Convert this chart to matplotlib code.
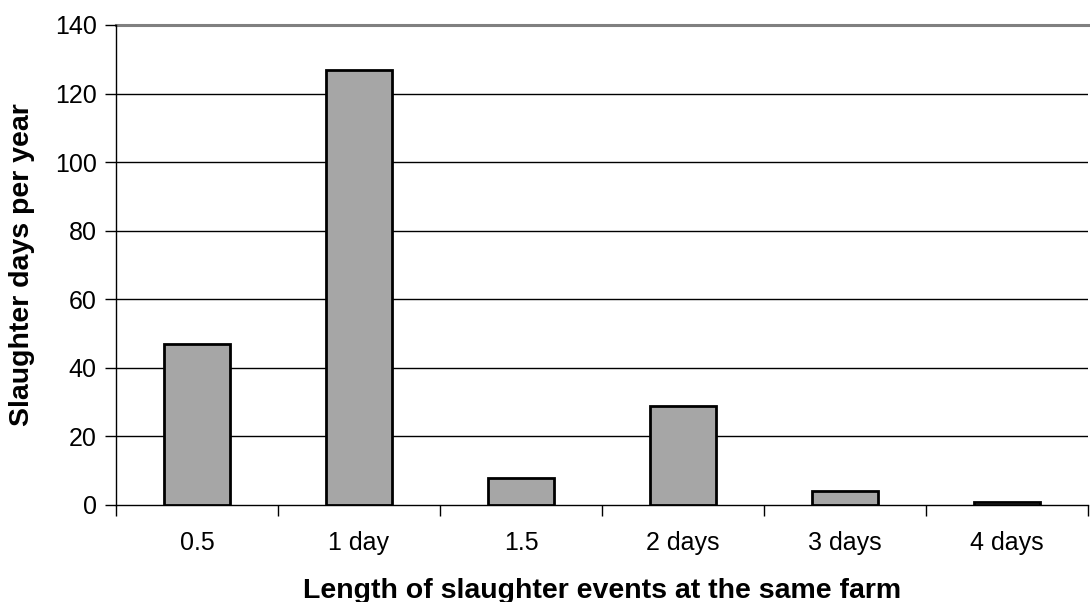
import numpy as np
import matplotlib.pyplot as plt

categories = ["0.5", "1 day", "1.5", "2 days", "3 days", "4 days"]
values = [47, 127, 8, 29, 4, 1]
y_ticks = [0, 20, 40, 60, 80, 100, 120, 140]

plt.rcParams['font.family'] = ['Liberation Sans', 'DejaVu Sans']

fig = plt.figure(figsize=(10.9, 6.02), dpi=100)
ax = fig.add_axes([116 / 1090, 1 - 505 / 602, (1088 - 116) / 1090, (505 - 25) / 602])

x = np.arange(len(categories))
ax.bar(x, values, width=0.41, color="#A6A6A6", edgecolor="black", linewidth=2, zorder=3)

ax.set_xlim(-0.5, len(categories) - 0.5)
ax.set_ylim(0, 140)

# 目盛り線
for t in y_ticks[1:-1]:
    ax.axhline(t, color="black", linewidth=1, zorder=1)
ax.axhline(140, color="#808080", linewidth=2.2, zorder=1, clip_on=False)

ax.set_yticks(y_ticks)
ax.set_yticklabels([str(t) for t in y_ticks])
ax.set_xticks(x)
ax.set_xticklabels(categories)
ax.set_xticks(np.arange(len(categories) + 1) - 0.5, minor=True)

ax.tick_params(axis="x", which="major", length=0, pad=19, labelsize=18)
ax.tick_params(axis="x", which="minor", length=8, width=1, direction="out", color="black")
ax.tick_params(axis="y", length=8, width=1, direction="out", labelsize=18, pad=6)

for s in ["top", "right"]:
    ax.spines[s].set_visible(False)
ax.spines["left"].set_linewidth(1)
ax.spines["bottom"].set_linewidth(1)

ax.set_xlabel("Length of slaughter events at the same farm", fontsize=20.5, fontweight="bold", labelpad=16)
ax.set_ylabel("Slaughter days per year", fontsize=20.5, fontweight="bold", labelpad=14)

fig.savefig("out.png", dpi=100)
